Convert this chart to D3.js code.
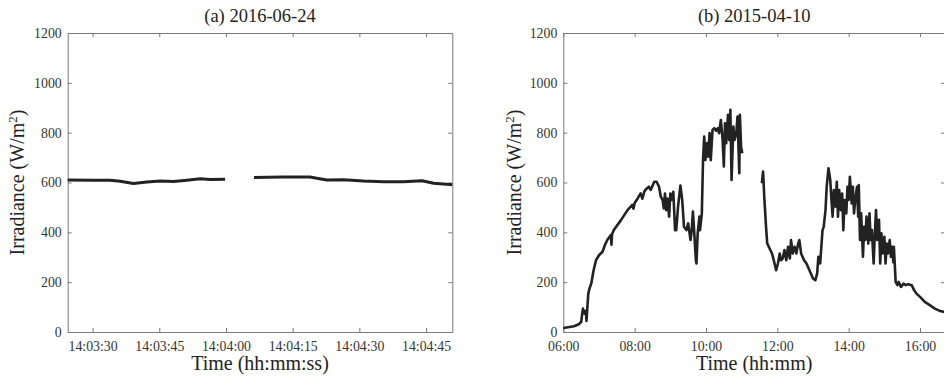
<!DOCTYPE html>
<html>
<head>
    <meta charset="utf-8">
    <title>irradiance</title>
    <script type="text/javascript" src="https://cdn.jsdelivr.net/npm/d3@7"></script>
    <style type="text/css">
        body { margin: 0; background: #fff; }
        svg { font-family: "Liberation Serif", "DejaVu Serif", serif; }
        .axis path, .axis line { stroke: #7a7a7a; }
        .axis text { fill: #333; font-size: 13.8px; font-family: "Liberation Serif", serif; }
    </style>
</head>
<body>
<div id="app"></div>

<script type="text/javascript">
    // (a) 2016-06-24, short window, null = missing data
    var timesA = ["14:03:24.400", "14:03:30.200", "14:03:33.900", "14:03:36.200", "14:03:39.200",
        "14:03:42.200", "14:03:45.200", "14:03:48.200", "14:03:51.200", "14:03:54.200",
        "14:03:56.400", "14:03:59.800", "14:04:03.000",
        "14:04:06.300", "14:04:12.900", "14:04:18.900", "14:04:20.400", "14:04:22.700",
        "14:04:26.400", "14:04:30.900", "14:04:35.400", "14:04:39.900", "14:04:44.100",
        "14:04:46.700", "14:04:50.400", "14:04:50.900"];
    var valuesA = [610, 609, 609, 605, 596,
        602, 606, 604, 609, 615,
        612, 613, null,
        620, 622, 622, 617, 610,
        611, 606, 603, 603, 607,
        597, 592, 591];

    // (b) 2015-04-10, whole day
    var timesB = ["06:00", "06:18", "06:26", "06:30", "06:33", "06:36", "06:38", "06:39", "06:42", "06:44",
        "06:47", "06:51", "06:55", "07:00", "07:06", "07:10", "07:14", "07:20", "07:21", "07:22",
        "07:25", "07:37", "07:48", "07:56", "07:58", "08:00", "08:05", "08:10", "08:13", "08:16",
        "08:19", "08:24", "08:27", "08:33", "08:37", "08:41", "08:44", "08:47", "08:49", "08:51",
        "08:53", "08:55", "08:58", "09:00", "09:02", "09:05", "09:08", "09:10", "09:13", "09:17",
        "09:20", "09:23", "09:27", "09:30", "09:34", "09:36", "09:38", "09:40", "09:43", "09:44",
        "09:46", "09:49", "09:50", "09:53", "09:55", "09:57", "09:59", "10:02", "10:04", "10:06",
        "10:08", "10:11", "10:14", "10:17", "10:20", "10:22", "10:25", "10:28", "10:30", "10:32",
        "10:34", "10:37", "10:39", "10:41", "10:43", "10:46", "10:48", "10:51", "10:53", "10:56",
        "10:57", "10:59", "11:01", "11:15",
        "11:34", "11:36", "11:38", "11:41", "11:43", "11:47", "11:51", "11:54", "11:58", "12:01",
        "12:04", "12:06", "12:09", "12:12", "12:15", "12:18", "12:21", "12:23", "12:26", "12:29",
        "12:32", "12:35", "12:37", "12:40", "12:45", "12:49", "12:54", "13:00", "13:04", "13:07",
        "13:09", "13:12", "13:14", "13:16", "13:18", "13:21", "13:23", "13:26", "13:29", "13:31",
        "13:33", "13:35", "13:38", "13:40", "13:42", "13:44", "13:47", "13:49", "13:51", "13:53",
        "13:56", "13:58", "14:00", "14:02", "14:05", "14:07", "14:09", "14:11", "14:14", "14:16",
        "14:17", "14:19", "14:21", "14:24", "14:26", "14:28", "14:30", "14:33", "14:35", "14:37",
        "14:39", "14:42", "14:44", "14:46", "14:48", "14:51", "14:53", "14:55", "14:57", "15:00",
        "15:02", "15:04", "15:06", "15:09", "15:11", "15:13", "15:15", "15:16", "15:19", "15:22",
        "15:24", "15:28", "15:32", "15:36", "15:40", "15:46", "15:50", "15:54", "16:00", "16:08",
        "16:17", "16:25", "16:34", "16:42"];
    var valuesB = [16, 23, 31, 40, 94, 74, 85, 44, 154, 174,
        194, 248, 288, 308, 322, 349, 369, 389, 350, 392,
        409, 449, 489, 510, 495, 518, 536, 556, 535, 562,
        573, 583, 570, 603, 603, 583, 543, 530, 496, 556,
        489, 536, 463, 556, 530, 563, 409, 409, 503, 588,
        530, 422, 409, 436, 369, 409, 483, 409, 288, 275,
        396, 463, 409, 476, 690, 784, 690, 758, 704, 798,
        690, 811, 818, 808, 818, 798, 851, 771, 664, 838,
        758, 872, 771, 892, 610, 825, 771, 798, 865, 637,
        872, 744, 717, null,
        597, 644, 543, 422, 355, 335, 315, 288, 248, 275,
        315, 288, 295, 329, 288, 342, 295, 369, 315, 342,
        315, 355, 369, 315, 288, 275, 248, 215, 208, 235,
        302, 275, 342, 409, 422, 489, 583, 657, 610, 530,
        463, 570, 503, 603, 463, 570, 489, 556, 409, 530,
        476, 583, 530, 623, 516, 583, 476, 530, 583, 463,
        590, 369, 476, 302, 422, 369, 463, 355, 476, 369,
        409, 275, 396, 489, 369, 450, 275, 396, 315, 382,
        275, 355, 315, 369, 302, 342, 280, 342, 201, 188,
        201, 181, 194, 188, 192, 188, 168, 154, 141, 121,
        107, 94, 84, 80];

    var yTicks = [0, 200, 400, 600, 800, 1000, 1200];
    var xTicksA = ["14:03:30", "14:03:45", "14:04:00", "14:04:15", "14:04:30", "14:04:45"];
    var xTicksB = ["06:00", "08:00", "10:00", "12:00", "14:00", "16:00"];

    var W = 944, H = 377;
    var plotTop = 33, plotBottom = 332;
    var svg = d3.select('#app').append('svg').attr('width', W).attr('height', H);

    var parseMs = d3.timeParse('%H:%M:%S.%L');
    var parseS = d3.timeParse('%H:%M:%S');
    var parseM = d3.timeParse('%H:%M');

    function panel(opt) {
        var x = d3.scaleTime().domain(opt.domain).range([opt.x0, opt.x1]);
        var y = d3.scaleLinear().domain([0, 1200]).range([plotBottom, plotTop]);
        var g = svg.append('g');

        // bottom / left axes with inward ticks
        g.append('g').attr('class', 'axis')
            .attr('transform', 'translate(0,' + plotBottom + ')')
            .call(d3.axisBottom(x).tickValues(opt.ticks).tickFormat(d3.timeFormat(opt.fmt))
                .tickSizeInner(-4).tickSizeOuter(0).tickPadding(9));
        g.append('g').attr('class', 'axis')
            .attr('transform', 'translate(' + opt.x0 + ',0)')
            .call(d3.axisLeft(y).tickValues(yTicks).tickFormat(d3.format('d'))
                .tickSizeInner(-4).tickSizeOuter(0).tickPadding(6));
        // top / right mirror ticks, no labels
        g.append('g').attr('class', 'axis')
            .attr('transform', 'translate(0,' + plotTop + ')')
            .call(d3.axisTop(x).tickValues(opt.ticks).tickFormat('').tickSizeInner(-4).tickSizeOuter(0));
        g.append('g').attr('class', 'axis')
            .attr('transform', 'translate(' + opt.x1 + ',0)')
            .call(d3.axisRight(y).tickValues(yTicks).tickFormat('').tickSizeInner(-4).tickSizeOuter(0));

        var data = opt.times.map(function (t, i) {
            return {t: opt.parse(t), v: opt.values[i]};
        });
        var line = d3.line()
            .defined(function (d) { return d.v !== null; })
            .x(function (d) { return x(d.t); })
            .y(function (d) { return y(d.v); });
        g.append('path').datum(data)
            .attr('d', line)
            .attr('fill', 'none')
            .attr('stroke', '#222')
            .attr('stroke-width', opt.lw)
            .attr('stroke-linejoin', 'round');

        // title
        g.append('text')
            .attr('x', (opt.x0 + opt.x1) / 2).attr('y', 22)
            .attr('text-anchor', 'middle')
            .style('font-size', '18.5px').attr('fill', '#222')
            .text(opt.title);
        // x label
        g.append('text')
            .attr('x', (opt.x0 + opt.x1) / 2).attr('y', 370)
            .attr('text-anchor', 'middle')
            .style('font-size', '20px').attr('fill', '#222')
            .text(opt.xlabel);
        // y label
        var yl = g.append('text')
            .attr('transform', 'translate(' + opt.ylx + ',' + ((plotTop + plotBottom) / 2) + ') rotate(-90)')
            .attr('text-anchor', 'middle')
            .style('font-size', '20px').attr('fill', '#222');
        yl.append('tspan').text('Irradiance (W/m');
        yl.append('tspan').attr('baseline-shift', 'super').style('font-size', '13px').text('2');
        yl.append('tspan').text(')');
    }

    panel({
        x0: 67.7, x1: 452.3,
        domain: [parseMs('14:03:24.400'), parseMs('14:04:50.900')],
        ticks: xTicksA.map(parseS), fmt: '%H:%M:%S',
        times: timesA, values: valuesA, parse: parseMs, lw: 3,
        title: '(a) 2016-06-24', xlabel: 'Time (hh:mm:ss)', ylx: 24
    });
    panel({
        x0: 563.3, x1: 945,
        domain: [parseM('06:00'), parseM('16:42')],
        ticks: xTicksB.map(parseM), fmt: '%H:%M',
        times: timesB, values: valuesB, parse: parseM, lw: 2.6,
        title: '(b) 2015-04-10', xlabel: 'Time (hh:mm)', ylx: 521
    });
</script>
</body>
</html>
